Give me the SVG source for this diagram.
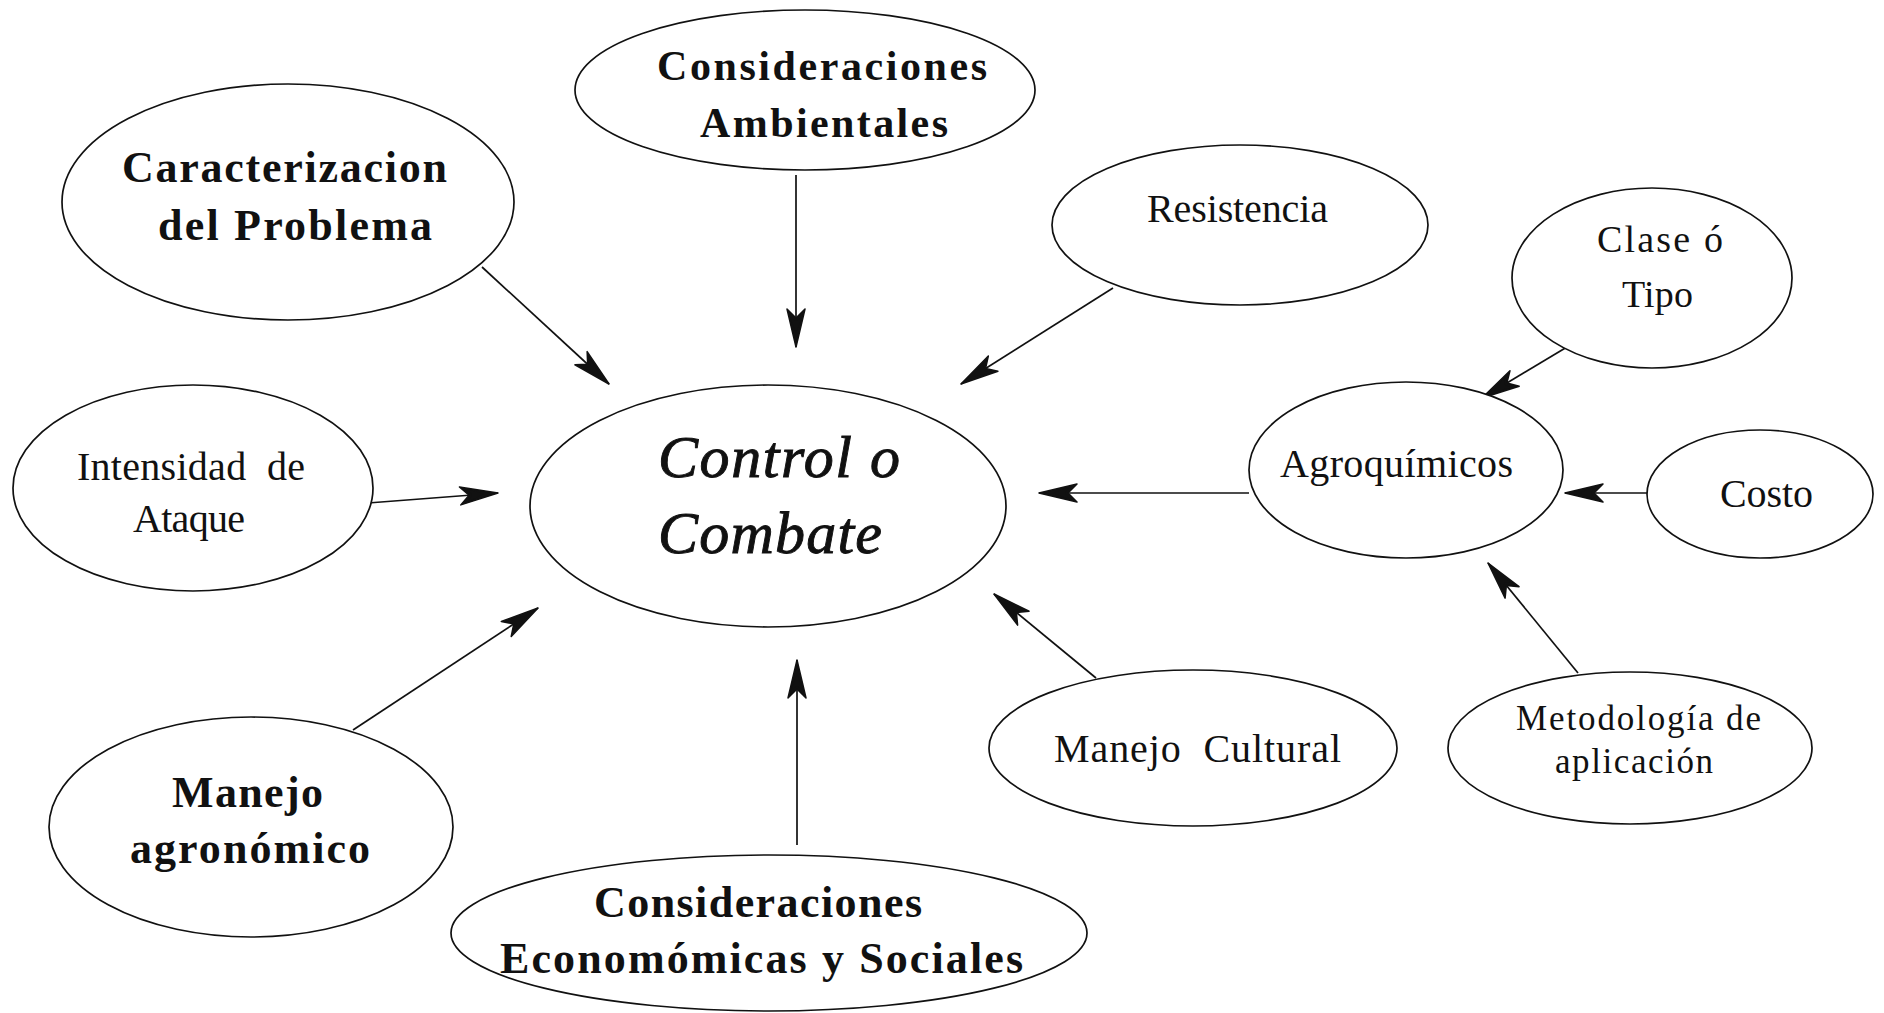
<svg xmlns="http://www.w3.org/2000/svg" width="1884" height="1013" viewBox="0 0 1884 1013">
  <style>
    .node ellipse { fill: #ffffff; stroke: #111111; stroke-width: 1.7; }
    .lbl { font-family: "Liberation Serif", "Times New Roman", serif; fill: #111111; }
    .heavy { font-weight: bold; }
    .thin { font-weight: normal; }
    .center { font-style: italic; stroke: #111111; stroke-width: 0.9; }
    .edge { stroke: #111111; stroke-width: 1.7; fill: none; marker-end: url(#barb); }
  </style>
  <defs>
    <!-- barbed, filled arrowhead; tip at the end of the line -->
    <marker id="barb" markerUnits="userSpaceOnUse" markerWidth="42" markerHeight="24" refX="40" refY="12" orient="auto" viewBox="0 0 42 24">
      <path d="M40,12 L2,3 L11,12 L2,21 Z" fill="#111111" stroke="#111111" stroke-width="1.5" stroke-linejoin="round"/>
      <path d="M26,12 L10,6 L14,12 L10,18 Z" fill="#111111"/>
    </marker>
  </defs>

  <rect x="0" y="0" width="1884" height="1013" fill="#ffffff"/>

  <!-- connectors, each pointing towards its target node -->
  <g id="connectors">
    <line class="edge" x1="482" y1="267" x2="609" y2="384"/>
    <line class="edge" x1="796" y1="175" x2="796" y2="347"/>
    <line class="edge" x1="1113" y1="288" x2="961" y2="384"/>
    <line class="edge" x1="1567" y1="347" x2="1482" y2="398"/>
    <line class="edge" x1="1249" y1="493" x2="1039" y2="493"/>
    <line class="edge" x1="1647" y1="493" x2="1565" y2="493"/>
    <line class="edge" x1="368" y1="503" x2="498" y2="493"/>
    <line class="edge" x1="353" y1="730" x2="538" y2="608"/>
    <line class="edge" x1="797" y1="845" x2="797" y2="660"/>
    <line class="edge" x1="1096" y1="678" x2="994" y2="594"/>
    <line class="edge" x1="1578" y1="673" x2="1488" y2="563"/>
  </g>

  <g id="control-combate" class="node">
    <ellipse cx="768" cy="506" rx="238" ry="121"/>
    <text class="lbl center" font-size="60" x="658" y="477" textLength="242" lengthAdjust="spacing">Control o</text>
    <text class="lbl center" font-size="60" x="658" y="553" textLength="224" lengthAdjust="spacing">Combate</text>
  </g>

  <g id="caracterizacion" class="node">
    <ellipse cx="288" cy="202" rx="226" ry="118"/>
    <text class="lbl heavy" font-size="44" x="122" y="182" textLength="325" lengthAdjust="spacing">Caracterizacion</text>
    <text class="lbl heavy" font-size="44" x="158" y="240" textLength="274" lengthAdjust="spacing">del Problema</text>
  </g>

  <g id="consideraciones-ambientales" class="node">
    <ellipse cx="805" cy="90" rx="230" ry="80"/>
    <text class="lbl heavy" font-size="42" x="657" y="80" textLength="330" lengthAdjust="spacing">Consideraciones</text>
    <text class="lbl heavy" font-size="42" x="700" y="137" textLength="248" lengthAdjust="spacing">Ambientales</text>
  </g>

  <g id="resistencia" class="node">
    <ellipse cx="1240" cy="225" rx="188" ry="80"/>
    <text class="lbl thin" font-size="40" x="1147" y="222" textLength="181" lengthAdjust="spacing">Resistencia</text>
  </g>

  <g id="clase-tipo" class="node">
    <ellipse cx="1652" cy="278" rx="140" ry="90"/>
    <text class="lbl thin" font-size="38" x="1597" y="252" textLength="126" lengthAdjust="spacing">Clase ó</text>
    <text class="lbl thin" font-size="38" x="1622" y="307" textLength="71" lengthAdjust="spacing">Tipo</text>
  </g>

  <g id="agroquimicos" class="node">
    <ellipse cx="1406" cy="470" rx="157" ry="88"/>
    <text class="lbl thin" font-size="40" x="1280" y="477" textLength="233" lengthAdjust="spacing">Agroquímicos</text>
  </g>

  <g id="costo" class="node">
    <ellipse cx="1760" cy="494" rx="113" ry="64"/>
    <text class="lbl thin" font-size="40" x="1720" y="507" textLength="93" lengthAdjust="spacing">Costo</text>
  </g>

  <g id="intensidad-ataque" class="node">
    <ellipse cx="193" cy="488" rx="180" ry="103"/>
    <text class="lbl thin" font-size="40" x="77" y="480" textLength="228" lengthAdjust="spacing" xml:space="preserve">Intensidad  de</text>
    <text class="lbl thin" font-size="40" x="133" y="532" textLength="112" lengthAdjust="spacing">Ataque</text>
  </g>

  <g id="manejo-agronomico" class="node">
    <ellipse cx="251" cy="827" rx="202" ry="110"/>
    <text class="lbl heavy" font-size="44" x="172" y="807" textLength="151" lengthAdjust="spacing">Manejo</text>
    <text class="lbl heavy" font-size="44" x="130" y="863" textLength="240" lengthAdjust="spacing">agronómico</text>
  </g>

  <g id="consideraciones-economicas" class="node">
    <ellipse cx="769" cy="933" rx="318" ry="78"/>
    <text class="lbl heavy" font-size="44" x="594" y="917" textLength="328" lengthAdjust="spacing">Consideraciones</text>
    <text class="lbl heavy" font-size="44" x="500" y="973" textLength="523" lengthAdjust="spacing">Economómicas y Sociales</text>
  </g>

  <g id="manejo-cultural" class="node">
    <ellipse cx="1193" cy="748" rx="204" ry="78"/>
    <text class="lbl thin" font-size="40" x="1054" y="762" textLength="287" lengthAdjust="spacing" xml:space="preserve">Manejo  Cultural</text>
  </g>

  <g id="metodologia" class="node">
    <ellipse cx="1630" cy="748" rx="182" ry="76"/>
    <text class="lbl thin" font-size="35" x="1516" y="730" textLength="245" lengthAdjust="spacing">Metodología de</text>
    <text class="lbl thin" font-size="35" x="1555" y="773" textLength="158" lengthAdjust="spacing">aplicación</text>
  </g>
</svg>
